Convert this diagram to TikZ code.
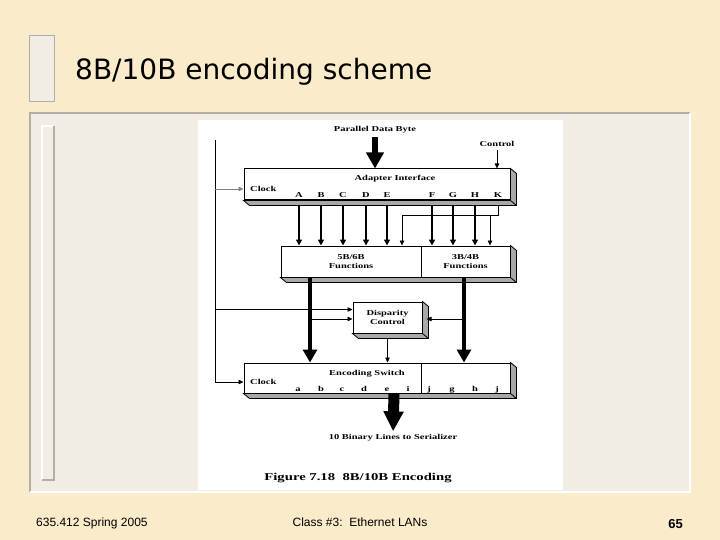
\documentclass[tikz,border=0pt]{standalone}
\usepackage{fontspec}
\setmainfont{Liberation Serif}
\newfontfamily\titlefont{DejaVu Sans}
\newfontfamily\footfont{Liberation Sans}
\newfontfamily\figfont[FakeStretch=1.4]{Liberation Serif}
\usetikzlibrary{arrows.meta,calc,positioning}
\definecolor{cream}{RGB}{250,235,202}
\definecolor{panel}{RGB}{241,237,229}
\definecolor{rim}{RGB}{178,174,166}
\definecolor{slabgray}{RGB}{168,168,168}
\newcommand\extrude[2]{\draw[fill=slabgray,line width=0.8pt] (#2.north east) -- ++(6,5) -- ($(#2.south east)+(6,5)$) -- ($(#1.south west)+(6,5)$) -- (#1.south west) -- (#2.south east) -- cycle (#2.south east) -- ++(6,5);}

\begin{document}
\begin{tikzpicture}[x=1pt,y=-1pt,>={Triangle[length=6pt,width=6pt]},
	every node/.style={font=\figfont\bfseries\fontsize{7.5}{9}\selectfont,inner sep=0pt},
	box/.style={draw,fill=white,line width=1pt,minimum height=31pt,align=center},
	bus/.style={->,line width=1.4pt},
	wire/.style={-{Triangle[length=5pt,width=4.5pt]},line width=0.6pt},
	fat/.style={-{Triangle[length=13pt,width=14pt]},line width=4pt}]
	\useasboundingbox (0,0) rectangle (720,540);
	\fill[cream] (0,0) rectangle (720,540);
	\draw[rim,fill=panel,line width=1pt] (29,36) rectangle (54,102);
	\fill[panel] (30,113) rectangle (690,492);
	\draw[rim,line width=2pt] (30,492) -- (30,113) -- (690,113);
	\draw[white,line width=2pt] (30,492) -- (690,492) -- (690,113);
	\draw[white,line width=1.5pt] (42,480) -- (42,126) -- (54,126);
	\draw[rim,line width=1.5pt] (42,480) -- (54,480) -- (54,126);
	\fill[white] (198,120) rectangle (563,490);

	\node[anchor=base west,font=\titlefont\fontsize{28}{32}\selectfont] (title) at (75,80) {8B/10B encoding scheme};
	\node[anchor=base west,font=\footfont\fontsize{12}{14}\selectfont] (foot1) at (36,526) {635.412 Spring 2005};
	\node[anchor=base,font=\footfont\fontsize{12}{14}\selectfont] (foot2) at (360,526) {Class \#3:\ \ Ethernet LANs};
	\node[anchor=base east,font=\footfont\bfseries\fontsize{13}{15}\selectfont] (foot3) at (683,528) {65};

	\node[box,minimum width=266pt] (adapter) at (377,184.5) {};
	\node[box,minimum width=140pt] (func56) at (351,261.5) {5B/6B\\Functions};
	\node[box,minimum width=89pt] (func34) at (465.5,261.5) {3B/4B\\Functions};
	\node[box,minimum width=69pt] (disp) at (387.5,317.5) {Disparity\\Control};
	\node[box,minimum width=177pt,minimum height=30pt] (encl) at (332.5,378) {};
	\node[box,minimum width=89pt,minimum height=30pt] (encr) at (465.5,378) {};
	\extrude{adapter}{adapter}
	\extrude{func56}{func34}
	\extrude{disp}{disp}
	\extrude{encl}{encr}

	\node (pdb) at (375,130) {Parallel Data Byte};
	\node (ctrl) at (497,144) {Control};
	\node (adtxt) at (395,179) {Adapter Interface};
	\node (enctxt) at (367,374) {Encoding Switch};
	\node[anchor=west] (clkA) at (250,189) {Clock};
	\node[anchor=west] (clkB) at (250,382) {Clock};
	\node (serial) at (393,438) {10 Binary Lines to Serializer};
	\node[font=\figfont\bfseries\fontsize{10.5}{12}\selectfont] (cap) at (358,478) {Figure 7.18\ \ 8B/10B Encoding};
	\foreach \n/\x in {A/299,B/321,C/343,D/366,E/387,F/432,G/453,H/475,K/498}
		\node[anchor=base] (l\n) at (\x,198) {\n};
	\foreach \t/\x [count=\k] in {a/298,b/321,c/342,d/364,e/387,i/408,j/429,g/452,h/475,j/497}
		\node[anchor=base] (o\k) at (\x,391) {\t};

	\coordinate (rail) at (215,140);
	\coordinate (ksix) at (402,215);
	\coordinate (kfour) at (490,215);
	\coordinate (s6) at (310,0);
	\coordinate (s4) at (464,0);
	\coordinate (sx) at (394,0);
	\coordinate (din1) at ([yshift=8pt]disp.west);
	\coordinate (din2) at ([yshift=-1.5pt]disp.west);
	\coordinate (din3) at ([xshift=4pt,yshift=-1.5pt]disp.east);

	\draw[-{Triangle[length=16pt,width=17pt]},line width=5.5pt,shorten <=3pt] (pdb.south) -- (pdb.south |- adapter.north);
	\draw[wire,shorten <=3pt] (ctrl.south) -- (ctrl.south |- adapter.north);
	\foreach \n in {A,B,C,D,E}
		\draw[bus,shorten <=5pt] (l\n |- adapter.south) -- (l\n |- func56.north);
	\foreach \n in {F,G,H}
		\draw[bus,shorten <=5pt] (l\n |- adapter.south) -- (l\n |- func34.north);
	\draw[wire,shorten <=5pt] (lK |- adapter.south) -- (lK |- ksix) -- (ksix) -- (ksix |- func56.north);
	\draw[wire] (kfour) -- (kfour |- func34.north);
	\draw[line width=0.8pt] (rail) -- (rail |- clkB);
	\draw[wire] (rail |- clkB) -- (encl.west |- clkB);
	\draw[wire,gray] (rail |- clkA) -- (adapter.west |- clkA);
	\draw[wire] (rail |- din1) -- (din1);
	\draw[wire] (s6 |- din2) -- (din2);
	\draw[wire] (s4 |- din3) -- (din3);
	\draw[wire,shorten <=5pt] (disp.south) -- (disp.south |- encl.north);
	\draw[fat] (s6 |- func56.south) -- (s6 |- encl.north);
	\draw[fat] (s4 |- func34.south) -- (s4 |- encr.north);
	\draw[-{Triangle[length=20pt,width=19pt]},line width=11pt,shorten >=3pt] (sx |- encl.south) -- (serial.north);
\end{tikzpicture}
\end{document}
